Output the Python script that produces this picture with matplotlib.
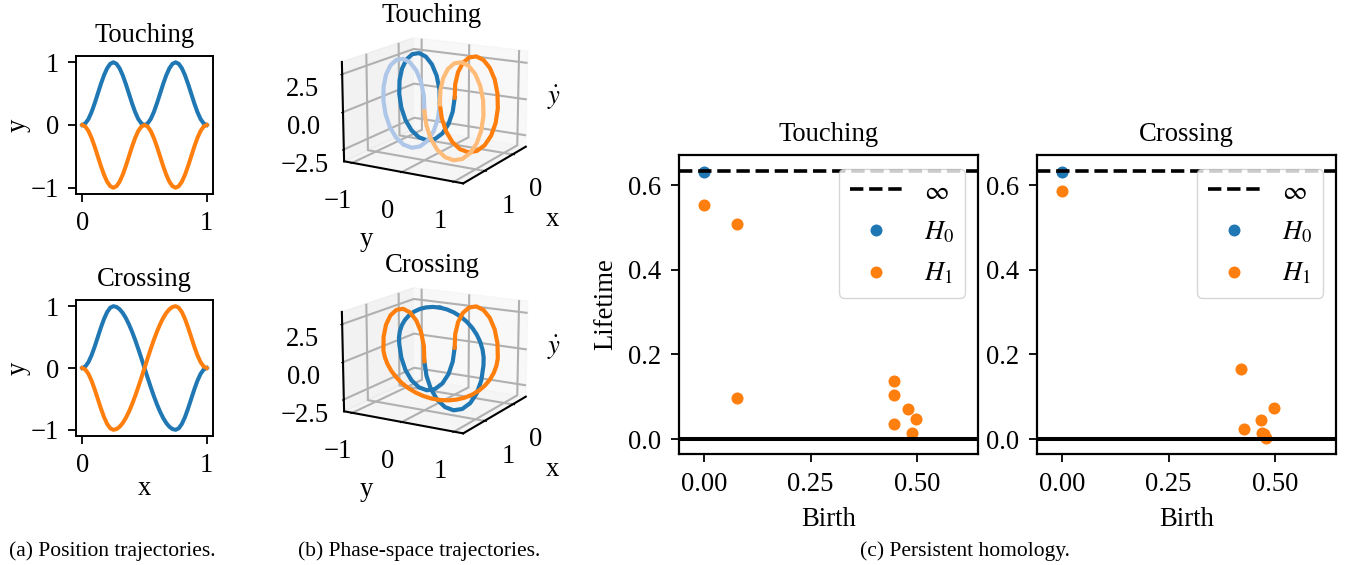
import matplotlib
matplotlib.use('Agg')
import matplotlib.pyplot as plt
from matplotlib.lines import Line2D

plt.rcParams['font.family'] = ['Liberation Serif', 'DejaVu Serif']
plt.rcParams['mathtext.fontset'] = 'stix'
plt.rcParams['font.size'] = 19.2
plt.rcParams['axes.titlesize'] = 19.2
plt.rcParams['axes.unicode_minus'] = True
plt.rcParams['lines.solid_joinstyle'] = 'round'

W, H = 1348, 565

#trajectory samples
t = [0, .025, .05, .075, .1, .125, .15, .175, .2, .225, .25, .275, .3, .325, .35, .375, .4, .425, .45, .475, .5,
     .525, .55, .575, .6, .625, .65, .675, .7, .725, .75, .775, .8, .825, .85, .875, .9, .925, .95, .975, 1]
touch_y = [0, .0245, .0955, .2061, .3455, .5, .6545, .7939, .9045, .9755, 1,
           .9755, .9045, .7939, .6545, .5, .3455, .2061, .0955, .0245, 0,
           .0245, .0955, .2061, .3455, .5, .6545, .7939, .9045, .9755, 1,
           .9755, .9045, .7939, .6545, .5, .3455, .2061, .0955, .0245, 0]
touch_v = [0, .971, 1.847, 2.542, 2.988, 3.142, 2.988, 2.542, 1.847, .971, 0,
           -.971, -1.847, -2.542, -2.988, -3.142, -2.988, -2.542, -1.847, -.971, 0,
           .971, 1.847, 2.542, 2.988, 3.142, 2.988, 2.542, 1.847, .971, 0,
           -.971, -1.847, -2.542, -2.988, -3.142, -2.988, -2.542, -1.847, -.971, 0]
cross_y = [0, .0245, .0955, .2061, .3455, .5, .6545, .7939, .9045, .9755, 1,
           .9877, .9511, .8910, .8090, .7071, .5878, .4540, .3090, .1564, 0,
           -.1564, -.3090, -.4540, -.5878, -.7071, -.8090, -.8910, -.9511, -.9877, -1,
           -.9755, -.9045, -.7939, -.6545, -.5, -.3455, -.2061, -.0955, -.0245, 0]
cross_v = [0, .971, 1.847, 2.542, 2.988, 3.142, 2.988, 2.542, 1.847, .971, 0,
           -.491, -.971, -1.426, -1.847, -2.221, -2.542, -2.799, -2.988, -3.103, -3.142,
           -3.103, -2.988, -2.799, -2.542, -2.221, -1.847, -1.426, -.971, -.491, 0,
           .971, 1.847, 2.542, 2.988, 3.142, 2.988, 2.542, 1.847, .971, 0]

#persistence diagrams
inf_level = 0.633
touch_h0 = [(0, .632)]
touch_h1_birth = [0, .077, .077, .446, .446, .446, .479, .498, .488]
touch_h1_life = [.552, .508, .097, .137, .104, .035, .071, .047, .014]
cross_h1_birth = [0, .42, .428, .498, .467, .47, .475, .478]
cross_h1_life = [.585, .166, .024, .073, .045, .015, .012, .003]


def neg(a):
    return [-v for v in a]


def px_axes(x0, y0, x1, y1, **kw):
    return fig.add_axes([x0 / W, 1 - y1 / H, (x1 - x0) / W, (y1 - y0) / H], **kw)


fig = plt.figure(figsize=(W / 100, H / 100), dpi=100)

# (a) position
for box, name, y, xl in [((76, 56, 213, 194), 'Touching', touch_y, False),
                         ((76, 300, 213, 436), 'Crossing', cross_y, True)]:
    ax = px_axes(*box)
    ax.plot(t, y, color='C0', lw=2.9)
    ax.plot(t, neg(y), color='C1', lw=2.9)
    ax.set_title(name, pad=10)
    ax.set_ylabel('y', labelpad=0)
    if xl:
        ax.set_xlabel('x', labelpad=-1)
    ax.set_xticks([0, 1])
    ax.set_yticks([-1, 0, 1])
    ax.tick_params(width=1.3, length=6, pad=6)
    for s in ax.spines.values():
        s.set_linewidth(1.4)

# (b) phase space
for box, name, y, v, light, title_y in [((310, 4, 558, 213), 'Touching', touch_y, touch_v, True, 15),
                                        ((310, 254, 558, 463), 'Crossing', cross_y, cross_v, False, 266)]:
    ax = px_axes(*box, projection='3d')
    ax.view_init(elev=15, azim=30)
    b2 = '#aec7e8' if light else 'C0'
    o2 = '#ffbb78' if light else 'C1'
    ax.plot(t[:21], neg(y)[:21], neg(v)[:21], color='C0', lw=3)
    ax.plot(t[20:], neg(y)[20:], neg(v)[20:], color=b2, lw=3)
    ax.plot(t[:21], y[:21], v[:21], color='C1', lw=3)
    ax.plot(t[20:], y[20:], v[20:], color=o2, lw=3)
    ax.set_xlim(-0.5, 1.7)
    ax.set_ylim(-1.17, 1.17)
    ax.set_zlim(-3.3, 3.3)
    ax.set_xticks([0, 1])
    ax.set_yticks([-1, 0, 1])
    ax.set_zticks([-2.5, 0, 2.5])
    ax.tick_params(axis='x', pad=7)
    ax.tick_params(axis='y', pad=7)
    ax.tick_params(axis='z', pad=8)
    ax.set_xlabel('x', labelpad=15)
    ax.set_ylabel('y', labelpad=16)
    ax.zaxis.set_rotate_label(False)
    ax.zaxis.set_label_position('upper')
    ax.set_zlabel(r'$\dot{y}$', rotation=0, labelpad=-9)
    fig.text(432 / W, 1 - title_y / H, name, ha='center', va='center')
    for a in (ax.xaxis, ax.yaxis, ax.zaxis):
        a._axinfo['grid']['color'] = '#b0b0b0'
        a._axinfo['grid']['linewidth'] = 1.5
        a.line.set_linewidth(1.5)

# (c) persistence
for box, name, bx, ly, ylab in [((679, 155, 978, 454), 'Touching', touch_h1_birth, touch_h1_life, True),
                                ((1037, 155, 1336, 454), 'Crossing', cross_h1_birth, cross_h1_life, False)]:
    ax = px_axes(*box)
    ax.scatter([p[0] for p in touch_h0], [p[1] for p in touch_h0], color='C0', s=75, zorder=2, linewidths=0)
    ax.scatter(bx, ly, color='C1', s=75, zorder=2, linewidths=0)
    ax.axhline(0, color='k', lw=2.9, zorder=3)
    ax.axhline(inf_level, color='k', lw=2.6, ls='--', zorder=3)
    ax.set_xlim(-0.0587, 0.643)
    ax.set_ylim(-0.035, 0.671)
    ax.set_xticks([0, .25, .5])
    ax.set_xticklabels(['0.00', '0.25', '0.50'])
    ax.set_yticks([0, .2, .4, .6])
    ax.set_xlabel('Birth', labelpad=7)
    if ylab:
        ax.set_ylabel('Lifetime', labelpad=7)
    ax.set_title(name, pad=10)
    ax.tick_params(width=1.3, length=6, pad=7)
    for s in ax.spines.values():
        s.set_linewidth(1.6)
    handles = [Line2D([], [], color='k', lw=2.6, ls='--'),
               Line2D([], [], color='C0', marker='o', ms=8.6, mew=0, ls=''),
               Line2D([], [], color='C1', marker='o', ms=8.6, mew=0, ls='')]
    ax.legend(handles, [r'$\infty$', r'$H_0$', r'$H_1$'], loc='upper right', bbox_to_anchor=(0.958, 0.953),
              borderaxespad=0, labelspacing=0.58, fancybox=True)

fig.text(112 / W, 1 - 551 / H, '(a) Position trajectories.', ha='center', va='center', fontsize=15.5)
fig.text(419 / W, 1 - 551 / H, '(b) Phase-space trajectories.', ha='center', va='center', fontsize=15.5)
fig.text(965 / W, 1 - 551 / H, '(c) Persistent homology.', ha='center', va='center', fontsize=15.5)

fig.savefig('out.png', dpi=100)
